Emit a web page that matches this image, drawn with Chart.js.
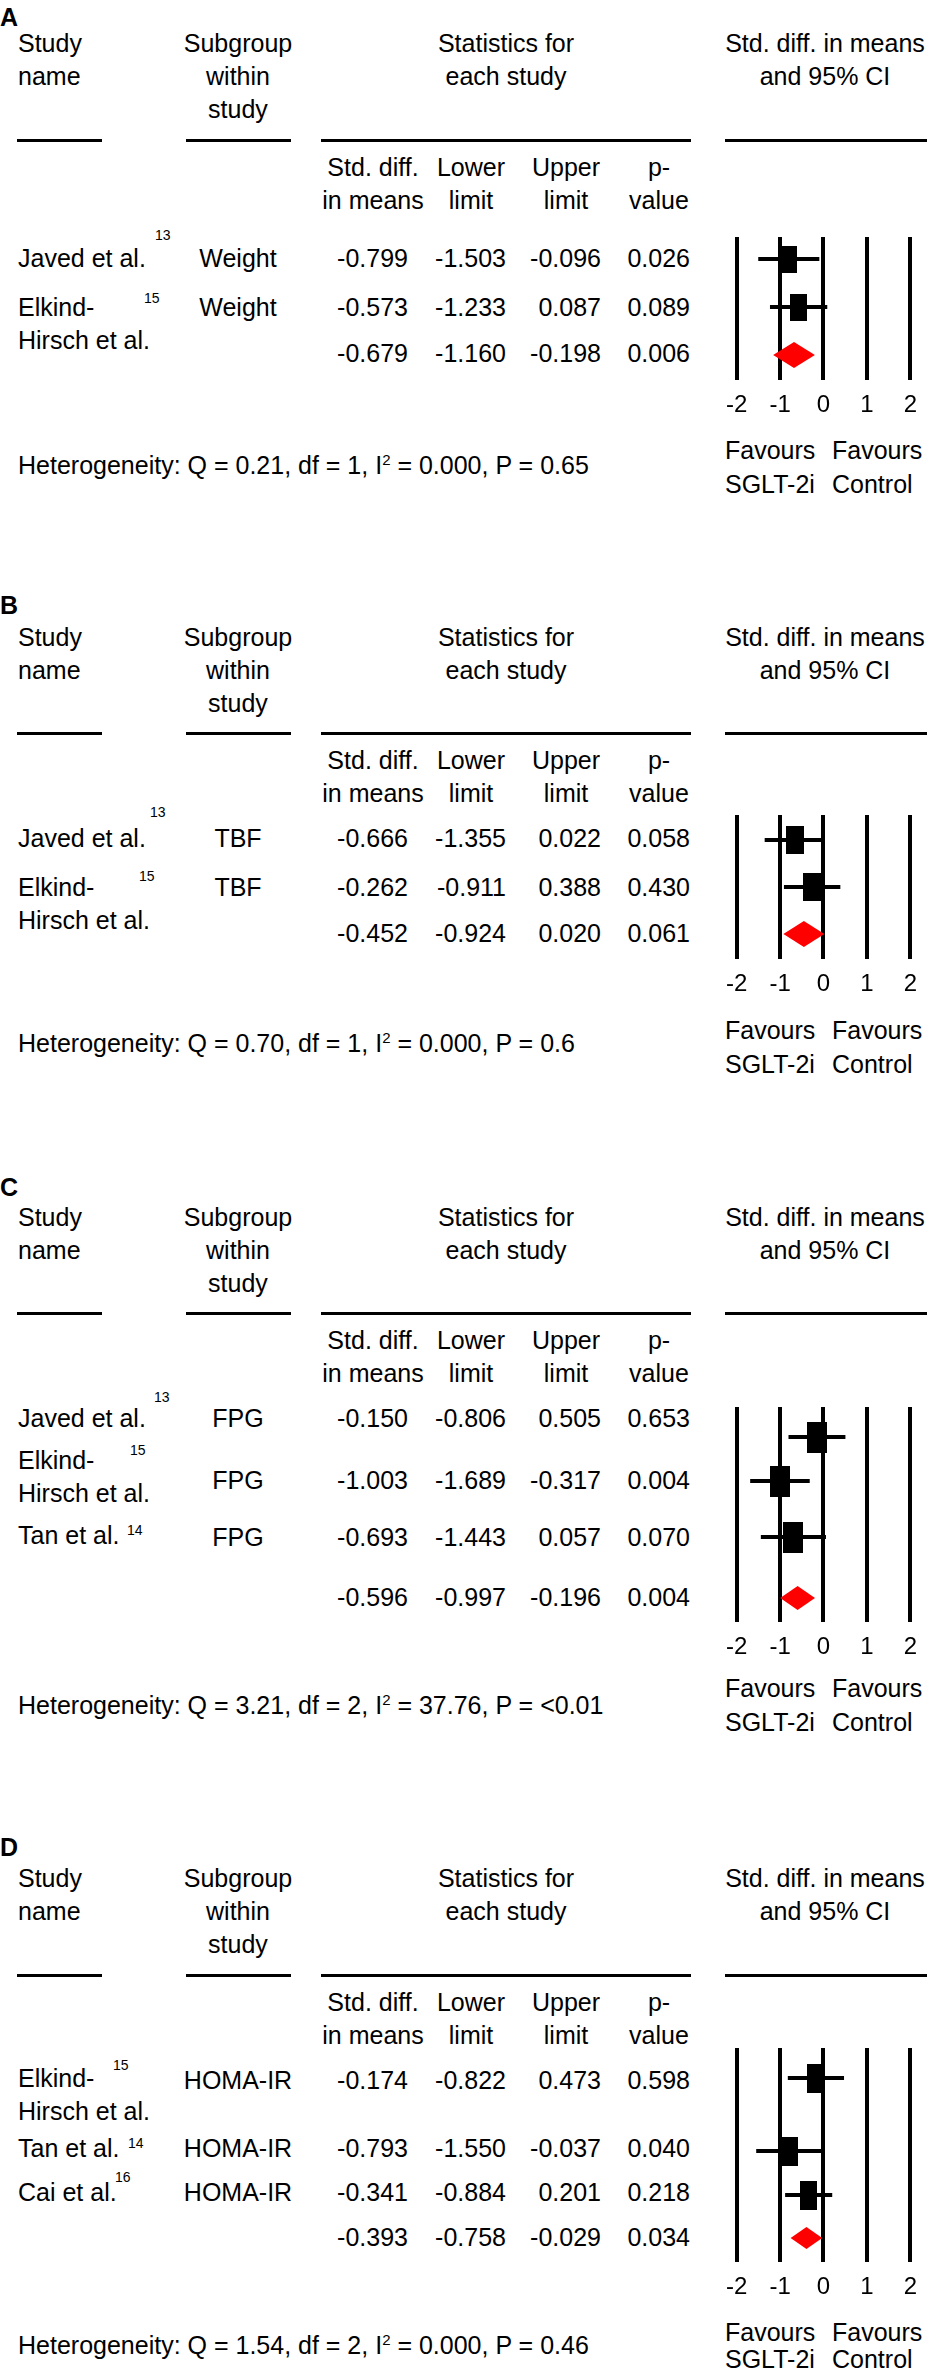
<!DOCTYPE html>
<html>
<head>
<meta charset="utf-8">
<script src="https://cdn.jsdelivr.net/npm/chart.js@4.4.1/dist/chart.umd.min.js"></script>
<style>
  html, body { margin: 0; padding: 0; background: #fff; }
  body { position: relative; width: 928px; height: 2375px; overflow: hidden;
         font-family: "Liberation Sans", Arial, sans-serif; color: #000; }
  .t { position: absolute; font-size: 25px; line-height: 30px; height: 30px; white-space: nowrap; }
  .sup { position: absolute; font-size: 14px; line-height: 16px; white-space: nowrap; }
  .letter { position: absolute; font-size: 25px; font-weight: bold; line-height: 30px; }
  .rule { position: absolute; height: 3px; background: #000; }
  canvas { position: absolute; }
</style>
</head>
<body>
<script>
// tick labels of the effect axis
const xTicks = [-2, -1, 0, 1, 2];

// A - body weight
const weightStudies = ["Javed et al.", "Elkind-\nHirsch et al."];
const weightRefs = ["13", "15"];
const weightEst = [-0.799, -0.573];
const weightLower = [-1.503, -1.233];
const weightUpper = [-0.096, 0.087];
const weightP = [0.026, 0.089];
const weightSummary = [-0.679, -1.160, -0.198, 0.006];
const weightHet = ["0.21", "1", "0.000", "0.65"];

// B - total body fat
const tbfStudies = ["Javed et al.", "Elkind-\nHirsch et al."];
const tbfRefs = ["13", "15"];
const tbfEst = [-0.666, -0.262];
const tbfLower = [-1.355, -0.911];
const tbfUpper = [0.022, 0.388];
const tbfP = [0.058, 0.430];
const tbfSummary = [-0.452, -0.924, 0.020, 0.061];
const tbfHet = ["0.70", "1", "0.000", "0.6"];

// C - fasting plasma glucose
const fpgStudies = ["Javed et al.", "Elkind-\nHirsch et al.", "Tan et al."];
const fpgRefs = ["13", "15", "14"];
const fpgEst = [-0.150, -1.003, -0.693];
const fpgLower = [-0.806, -1.689, -1.443];
const fpgUpper = [0.505, -0.317, 0.057];
const fpgP = [0.653, 0.004, 0.070];
const fpgSummary = [-0.596, -0.997, -0.196, 0.004];
const fpgHet = ["3.21", "2", "37.76", "<0.01"];

// D - HOMA-IR
const homaStudies = ["Elkind-\nHirsch et al.", "Tan et al.", "Cai et al."];
const homaRefs = ["15", "14", "16"];
const homaEst = [-0.174, -0.793, -0.341];
const homaLower = [-0.822, -1.550, -0.884];
const homaUpper = [0.473, -0.037, 0.201];
const homaP = [0.598, 0.040, 0.218];
const homaSummary = [-0.393, -0.758, -0.029, 0.034];
const homaHet = ["1.54", "2", "0.000", "0.46"];

// page layout of each panel (y = vertical centre of a text line)
const layoutA = { letterY: 17, headY: 43, ruleY: 140, subY: 167,
  nameY: [258, 307], rowY: [258, 307, 353], refXY: [[155, 235], [144, 298]],
  plot: [237, 380], markY: [259, 307, 355], box: [17, 27], dia: 13, favY: 450, hetY: 460 };
const layoutB = { letterY: 605, headY: 637, ruleY: 733, subY: 760,
  nameY: [838, 887], rowY: [838, 887, 933], refXY: [[150, 812], [139, 876]],
  plot: [815, 959], markY: [840, 887, 934], box: [18, 28], dia: 13, favY: 1030, hetY: 1038 };
const layoutC = { letterY: 1187, headY: 1217, ruleY: 1313, subY: 1340,
  nameY: [1418, 1460, 1535], rowY: [1418, 1480, 1537, 1597], refXY: [[154, 1397], [130, 1450], [127, 1530]],
  plot: [1407, 1622], markY: [1437, 1481, 1537, 1598], box: [20, 31], dia: 12, favY: 1688, hetY: 1700 };
const layoutD = { letterY: 1847, headY: 1878, ruleY: 1975, subY: 2002,
  nameY: [2078, 2148, 2192], rowY: [2080, 2148, 2192, 2237], refXY: [[113, 2065], [128, 2143], [115, 2177]],
  plot: [2048, 2262], markY: [2078, 2151, 2195, 2238], box: [17, 29], dia: 11, favY: 2332, hetY: 2340 };

const panels = [
  { letter: "A", group: "Weight", studies: weightStudies, refs: weightRefs, est: weightEst, lower: weightLower,
    upper: weightUpper, p: weightP, summary: weightSummary, het: weightHet, lay: layoutA },
  { letter: "B", group: "TBF", studies: tbfStudies, refs: tbfRefs, est: tbfEst, lower: tbfLower,
    upper: tbfUpper, p: tbfP, summary: tbfSummary, het: tbfHet, lay: layoutB },
  { letter: "C", group: "FPG", studies: fpgStudies, refs: fpgRefs, est: fpgEst, lower: fpgLower,
    upper: fpgUpper, p: fpgP, summary: fpgSummary, het: fpgHet, lay: layoutC },
  { letter: "D", group: "HOMA-IR", studies: homaStudies, refs: homaRefs, est: homaEst, lower: homaLower,
    upper: homaUpper, p: homaP, summary: homaSummary, het: homaHet, lay: layoutD }
];

const LINE = 33;
const PAGE_H = 2375;
const FONT = "'Liberation Sans', Arial, sans-serif";

function text(x, y, str, align, cls) {
  const el = document.createElement("div");
  el.className = cls || "t";
  el.textContent = str;
  const h = cls === "sup" ? 16 : 30;
  // keep the box inside the page
  el.style.top = Math.min(y - h / 2, PAGE_H - h - 1) + "px";
  if (align === "center") {
    el.style.left = (x - 200) + "px"; el.style.width = "400px"; el.style.textAlign = "center";
  } else if (align === "right") {
    el.style.left = (x - 400) + "px"; el.style.width = "400px"; el.style.textAlign = "right";
  } else {
    el.style.left = x + "px";
  }
  document.body.appendChild(el);
  return el;
}

function rule(x1, x2, y) {
  const el = document.createElement("div");
  el.className = "rule";
  el.style.left = x1 + "px";
  el.style.width = (x2 - x1) + "px";
  el.style.top = (y - 1.5) + "px";
  document.body.appendChild(el);
}

function boxImage(w, h) {
  const c = document.createElement("canvas");
  c.width = w; c.height = h;
  const g = c.getContext("2d");
  g.fillStyle = "#000";
  g.fillRect(0, 0, w, h);
  return c;
}

// red summary diamond, placed through the x scale
const diamondPlugin = {
  id: "diamond",
  afterDatasetsDraw(chart, args, opts) {
    const xs = chart.scales.x, ys = chart.scales.y;
    const xl = xs.getPixelForValue(opts.lower);
    const xm = xs.getPixelForValue(opts.est);
    const xu = xs.getPixelForValue(opts.upper);
    const y = ys.getPixelForValue(opts.y);
    const ctx = chart.ctx;
    ctx.save();
    ctx.fillStyle = "#ff0000";
    ctx.beginPath();
    ctx.moveTo(xl, y);
    ctx.lineTo(xm, y - opts.half);
    ctx.lineTo(xu, y);
    ctx.lineTo(xm, y + opts.half);
    ctx.closePath();
    ctx.fill();
    ctx.restore();
  }
};

Chart.defaults.font.family = FONT;
Chart.defaults.color = "#000";

const valueCols = [408, 506, 601, 690];

panels.forEach((pn) => {
  const L = pn.lay;
  const n = pn.studies.length;

  text(0, L.letterY, pn.letter, "left", "letter");

  // column headers
  text(18, L.headY, "Study"); text(18, L.headY + LINE, "name");
  text(238, L.headY, "Subgroup", "center"); text(238, L.headY + LINE, "within", "center");
  text(238, L.headY + 2 * LINE, "study", "center");
  text(506, L.headY, "Statistics for", "center"); text(506, L.headY + LINE, "each study", "center");
  text(825, L.headY, "Std. diff. in means", "center"); text(825, L.headY + LINE, "and 95% CI", "center");
  rule(17, 102, L.ruleY); rule(186, 291, L.ruleY); rule(321, 691, L.ruleY); rule(725, 927, L.ruleY);
  text(373, L.subY, "Std. diff.", "center"); text(373, L.subY + LINE, "in means", "center");
  text(471, L.subY, "Lower", "center"); text(471, L.subY + LINE, "limit", "center");
  text(566, L.subY, "Upper", "center"); text(566, L.subY + LINE, "limit", "center");
  text(659, L.subY, "p-", "center"); text(659, L.subY + LINE, "value", "center");

  // study rows
  for (let i = 0; i < n; i++) {
    pn.studies[i].split("\n").forEach((s, k) => text(18, L.nameY[i] + k * LINE, s));
    text(L.refXY[i][0], L.refXY[i][1], pn.refs[i], "left", "sup");
    text(238, L.rowY[i], pn.group, "center");
    [pn.est[i], pn.lower[i], pn.upper[i], pn.p[i]].forEach((v, k) =>
      text(valueCols[k], L.rowY[i], v.toFixed(3), "right"));
  }
  pn.summary.forEach((v, k) => text(valueCols[k], L.rowY[n], v.toFixed(3), "right"));

  const h = pn.het;
  const het = text(18, L.hetY, "");
  het.innerHTML = "Heterogeneity: Q = " + h[0] + ", df = " + h[1] + ", I<span style=\"font-size:15px;vertical-align:9px\">2</span> = " +
    h[2] + ", P = " + h[3].replace("<", "&lt;");

  text(725, L.favY, "Favours"); text(725, L.favY + 34, "SGLT-2i");
  text(832, L.favY, "Favours"); text(832, L.favY + 34, "Control");

  // forest plot
  const axisH = 45;
  const plotH = L.plot[1] - L.plot[0];
  const cv = document.createElement("canvas");
  cv.width = 213; cv.height = plotH + axisH;
  cv.style.left = "715px"; cv.style.top = L.plot[0] + "px";
  cv.style.width = "213px"; cv.style.height = (plotH + axisH) + "px";
  document.body.appendChild(cv);

  const ciSets = pn.est.map((e, i) => ({
    type: "line",
    data: [{ x: pn.lower[i], y: L.markY[i] }, { x: pn.upper[i], y: L.markY[i] }],
    borderColor: "#000", borderWidth: 4, pointRadius: 0, showLine: true, fill: false
  }));
  const boxSet = {
    type: "scatter",
    data: pn.est.map((e, i) => ({ x: e, y: L.markY[i] })),
    pointStyle: boxImage(L.box[0], L.box[1]),
    pointRadius: 10, showLine: false
  };

  new Chart(cv, {
    type: "scatter",
    data: { datasets: ciSets.concat([boxSet]) },
    options: {
      responsive: false,
      animation: false,
      events: [],
      layout: { autoPadding: false, padding: { left: 20, right: 13, top: 0, bottom: 0 } },
      plugins: {
        legend: { display: false },
        tooltip: { enabled: false },
        diamond: { lower: pn.summary[1], est: pn.summary[0], upper: pn.summary[2],
                   y: L.markY[n], half: L.dia }
      },
      scales: {
        x: {
          type: "linear", min: -2, max: 2,
          afterBuildTicks: (s) => { s.ticks = xTicks.map((v) => ({ value: v })); },
          afterFit: (s) => { s.height = axisH; },
          ticks: { font: { size: 24, family: FONT }, color: "#000", padding: 11, maxRotation: 0,
                   callback: (v) => String(v) },
          grid: { color: "#000", lineWidth: 4, drawTicks: false },
          border: { display: false }
        },
        y: { type: "linear", reverse: true, min: L.plot[0], max: L.plot[1], display: false }
      }
    },
    plugins: [diamondPlugin]
  });
});
</script>
</body>
</html>
